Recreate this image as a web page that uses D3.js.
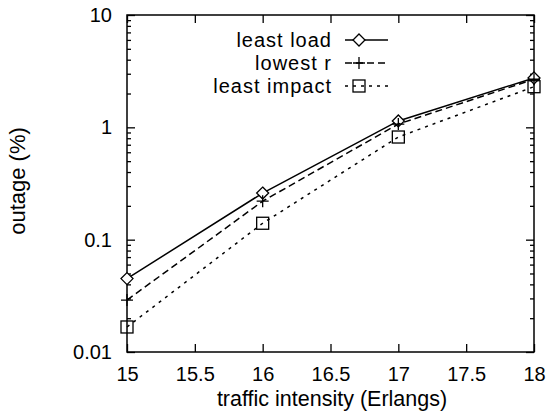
<!DOCTYPE html>
<html><head><meta charset="utf-8">
<script src="https://cdn.jsdelivr.net/npm/d3@7"></script>
<style>
html,body{margin:0;padding:0;background:#fff;}
text{font-family:"Liberation Sans",Arial,Helvetica,sans-serif;fill:#000;}
</style></head>
<body>
<script>
const xValues = [15, 16, 17, 18];
const leastLoad = [0.045, 0.26, 1.14, 2.75];
const lowestR = [0.029, 0.22, 1.07, 2.68];
const leastImpact = [0.0167, 0.14, 0.82, 2.3];
const seriesNames = ["least load", "lowest r", "least impact"];
const xTicks = [15, 15.5, 16, 16.5, 17, 17.5, 18];
const yTicks = [0.01, 0.1, 1, 10];
const yTickLabels = ["0.01", "0.1", "1", "10"];
const xTitle = "traffic intensity (Erlangs)";
const yTitle = "outage (%)";

const W = 546, H = 416;
const m = {left: 127, right: 534, top: 15, bottom: 352};
const svg = d3.select("body").append("svg").attr("width", W).attr("height", H);

const x = d3.scaleLinear().domain([15, 18]).range([m.left, m.right]);
const y = d3.scaleLog().domain([0.01, 10]).range([m.bottom, m.top]);

const minor = [];
for (let d = 0.01; d < 10; d *= 10) for (let k = 2; k <= 9; k++) minor.push(+(d * k).toPrecision(3));

const fsTick = 20, fsText = 22;
svg.append("g").attr("transform", `translate(${m.left},0)`)
  .call(d3.axisLeft(y).tickValues(yTicks).tickFormat((d, i) => yTickLabels[i]).tickSize(-8).tickPadding(15));
svg.append("g").attr("transform", `translate(${m.left},0)`)
  .call(d3.axisLeft(y).tickValues(minor).tickFormat("").tickSize(-4));
svg.append("g").attr("transform", `translate(${m.right},0)`)
  .call(d3.axisRight(y).tickValues(yTicks).tickFormat("").tickSize(-8));
svg.append("g").attr("transform", `translate(${m.right},0)`)
  .call(d3.axisRight(y).tickValues(minor).tickFormat("").tickSize(-4));
svg.append("g").attr("transform", `translate(0,${m.bottom})`)
  .call(d3.axisBottom(x).tickValues(xTicks).tickFormat(d3.format("")).tickSize(-8).tickPadding(15));
svg.append("g").attr("transform", `translate(0,${m.top})`)
  .call(d3.axisTop(x).tickValues(xTicks).tickFormat("").tickSize(-8));

svg.selectAll(".domain").remove();
svg.selectAll(".tick line").attr("stroke", "#000").attr("stroke-width", 1.3);
svg.selectAll(".tick text").attr("font-size", fsTick).attr("font-family", "Liberation Sans, Arial, sans-serif").attr("fill", "#000");

svg.append("rect").attr("x", m.left).attr("y", m.top)
  .attr("width", m.right - m.left).attr("height", m.bottom - m.top)
  .attr("fill", "none").attr("stroke", "#000").attr("stroke-width", 1.5);

svg.append("text").attr("x", 332).attr("y", 406)
  .attr("text-anchor", "middle").attr("font-size", 21.5).text(xTitle);
svg.append("text").attr("transform", "translate(25,181) rotate(-90)")
  .attr("text-anchor", "middle").attr("font-size", fsText).text(yTitle);

const series = [
  {name: seriesNames[0], vals: leastLoad, dash: null, marker: "diamond"},
  {name: seriesNames[1], vals: lowestR, dash: "7,4", marker: "plus"},
  {name: seriesNames[2], vals: leastImpact, dash: "3,5", marker: "square"}
];
const line = d3.line().x(d => x(d[0])).y(d => y(d[1]));

function drawMarker(g, type, cx, cy) {
  const s = 6;
  if (type === "diamond") {
    g.append("path").attr("d", `M${cx},${cy - s}L${cx + s},${cy}L${cx},${cy + s}L${cx - s},${cy}Z`)
      .attr("fill", "#fff").attr("stroke", "#000").attr("stroke-width", 1.3);
  } else if (type === "plus") {
    g.append("path").attr("d", `M${cx - s},${cy}H${cx + s}M${cx},${cy - s}V${cy + s}`)
      .attr("fill", "none").attr("stroke", "#000").attr("stroke-width", 1.3);
  } else {
    g.append("rect").attr("x", cx - s).attr("y", cy - s).attr("width", 2 * s).attr("height", 2 * s)
      .attr("fill", "none").attr("stroke", "#000").attr("stroke-width", 1.3);
  }
}

series.forEach(s => {
  const pts = xValues.map((v, i) => [v, s.vals[i]]);
  svg.append("path").datum(pts).attr("d", line).attr("fill", "none")
    .attr("stroke", "#000").attr("stroke-width", 1.5)
    .attr("stroke-dasharray", s.dash);
  const g = svg.append("g");
  pts.forEach(p => drawMarker(g, s.marker, x(p[0]), y(p[1])));
});

const legY = [40, 63, 86];
series.forEach((s, i) => {
  svg.append("text").attr("x", 332).attr("y", legY[i]).attr("dy", "0.35em")
    .attr("text-anchor", "end").attr("font-size", 20).attr("letter-spacing", 1).text(s.name);
  svg.append("line").attr("x1", 345).attr("x2", 388).attr("y1", legY[i]).attr("y2", legY[i])
    .attr("stroke", "#000").attr("stroke-width", 1.5).attr("stroke-dasharray", s.dash);
  drawMarker(svg.append("g"), s.marker, 359, legY[i]);
});
</script>
</body></html>
